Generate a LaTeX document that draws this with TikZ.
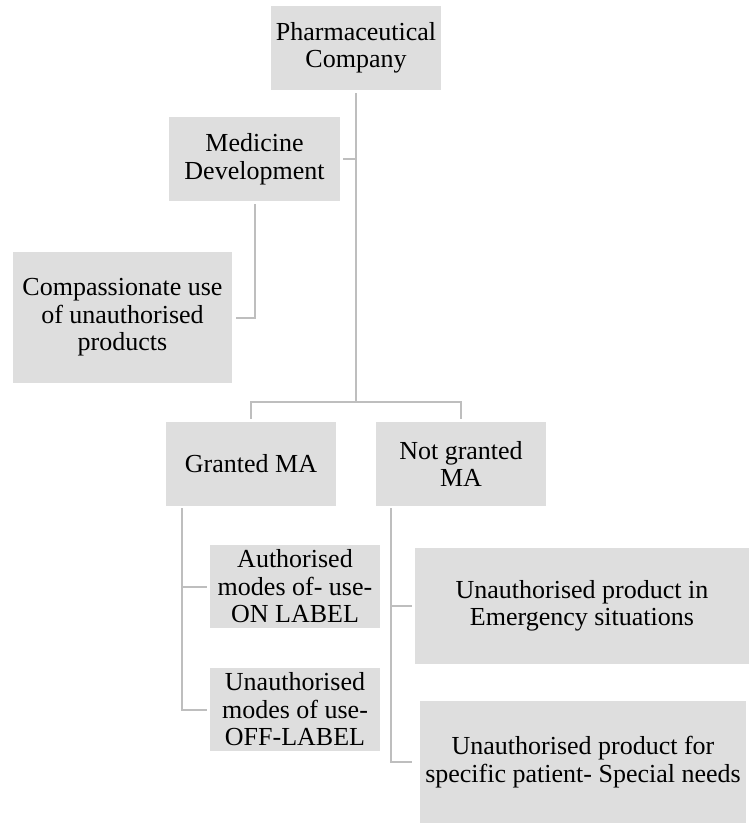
\documentclass[tikz,border=0pt]{standalone}
\usepackage{fontspec}
\setmainfont{Liberation Serif}
\usepackage{xcolor}
\usepackage{tikz}
\usetikzlibrary{positioning}
\definecolor{boxgray}{RGB}{222,222,222}
\definecolor{linegray}{RGB}{190,190,190}
\tikzstyle{block} = [rectangle, fill=boxgray, align=center, inner sep=0pt,
    minimum width=170pt, minimum height=84pt,
    font=\fontsize{26}{27.5}\selectfont]
\tikzstyle{edge} = [draw=linegray, line width=2pt]

\begin{document}
\begin{tikzpicture}[node distance=111pt]
  \useasboundingbox (0,0) rectangle (749pt,-824pt);
  % Place nodes

  \node [block] (pharma) at (356pt,-48pt) {Pharmaceutical\\Company};
  \node [block, minimum width=171pt, below of=pharma, xshift=-101.5pt] (medicine) {Medicine\\Development};
  \node [block, minimum width=219pt, minimum height=131pt, below of=medicine, node distance=158.5pt, xshift=-132pt] (compass) {Compassionate use\\of unauthorised\\products};
  \node [block, below of=pharma, node distance=416pt, xshift=-105pt] (granted) {Granted MA};
  \node [block, right of=granted, node distance=210pt] (notgranted) {Not granted\\MA};
  \node [block, minimum height=83pt, below of=granted, node distance=122.5pt, xshift=44pt] (onlabel) {Authorised\\modes of- use-\\ON LABEL};
  \node [block, minimum height=83pt, below of=onlabel, node distance=123pt] (offlabel) {Unauthorised\\modes of use-\\OFF-LABEL};
  \node [block, minimum width=334pt, minimum height=116pt, below of=notgranted, node distance=142pt, xshift=121pt] (emergency) {Unauthorised product in\\Emergency situations};
  \node [block, minimum width=326pt, minimum height=122pt, below of=emergency, node distance=156pt, xshift=1pt] (special) {Unauthorised product for\\specific patient- Special needs};

  % Connectors
  \coordinate [above=20pt of granted.north] (barL);
  \coordinate [above=20pt of notgranted.north] (barR);
  \coordinate [right=16pt of granted.south west] (gspine);
  \coordinate [right=15pt of notgranted.south west] (nspine);

  \path [edge, shorten <=3pt] (pharma.south) -- (pharma.south |- barL);
  \path [edge, shorten >=3pt] (pharma.south |- medicine.east) -- (medicine.east);
  \path [edge, shorten <=3pt, shorten >=4pt] (medicine.south) |- (compass.east);
  \path [edge, shorten <=3pt, shorten >=3pt] (granted.north) -- (barL) -- (barR) -- (notgranted.north);

  \path [edge, shorten <=2pt, shorten >=3pt] (gspine) |- (onlabel.west);
  \path [edge, shorten <=2pt, shorten >=3pt] (gspine) |- (offlabel.west);
  \path [edge, shorten <=2pt, shorten >=3pt] (nspine) |- (emergency.west);
  \path [edge, shorten <=2pt, shorten >=8pt] (nspine) |- (special.west);

\end{tikzpicture}
\end{document}
